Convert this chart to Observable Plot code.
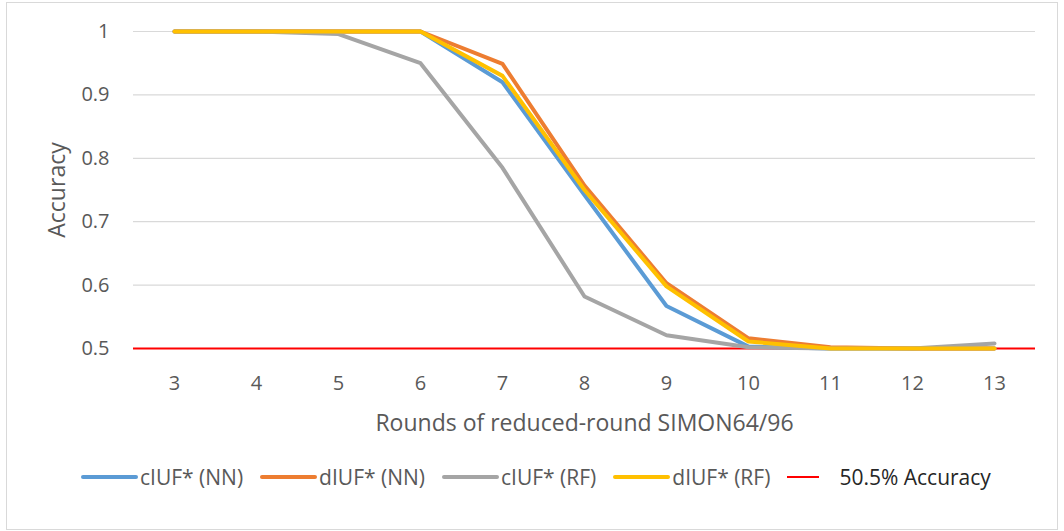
<!DOCTYPE html>
<html>
<head>
<meta charset="utf-8">
<script src="https://cdn.jsdelivr.net/npm/d3@7"></script>
<script src="https://cdn.jsdelivr.net/npm/@observablehq/plot@0.6"></script>
<style>
  html, body { margin: 0; padding: 0; background: #ffffff; }
  body { width: 1064px; height: 531px; position: relative; overflow: hidden; font-family: "Open Sans", sans-serif; }
  #frame { position: absolute; left: 6px; top: 2px; width: 1052px; height: 528px; border: 1px solid #d9d9d9; box-sizing: border-box; }
  #chart { position: absolute; left: 0; top: 0; }
  #legend { position: absolute; left: 81px; top: 462px; height: 30px; display: flex; align-items: center; gap: 17px; font-size: 21px; color: #595959; white-space: nowrap; }
  .item { display: flex; align-items: center; gap: 2px; }
  .sw { width: 57px; height: 4px; border-radius: 2px; }
  .sw.thin { width: 32px; height: 2px; border-radius: 0; margin-right: 18px; }
  .dark { color: #262626; }
</style>
</head>
<body>
<div id="frame"></div>
<div id="chart"></div>
<div id="legend"></div>
<script>
// ---- data ----
const rounds = [3, 4, 5, 6, 7, 8, 9, 10, 11, 12, 13];
const cIUF_NN = [1, 1, 1, 1, 0.920, 0.742, 0.567, 0.503, 0.500, 0.500, 0.500];
const dIUF_NN = [1, 1, 1, 1, 0.949, 0.757, 0.603, 0.516, 0.502, 0.500, 0.500];
const cIUF_RF = [1, 1, 0.996, 0.950, 0.785, 0.582, 0.521, 0.502, 0.500, 0.500, 0.508];
const dIUF_RF = [1, 1, 1, 1, 0.930, 0.750, 0.598, 0.511, 0.500, 0.500, 0.500];
const seriesNames = ["cIUF* (NN)", "dIUF* (NN)", "cIUF* (RF)", "dIUF* (RF)"];
const thresholdLabel = "50.5% Accuracy";
const thresholdValue = [0.5];
const yTicks = [0.5, 0.6, 0.7, 0.8, 0.9, 1];
const xTitle = "Rounds of reduced-round SIMON64/96";
const yTitle = "Accuracy";

// ---- styling ----
const seriesColors = ["#5b9bd5", "#ed7d31", "#a5a5a5", "#ffc000"];
const thresholdColor = "#ff0000";

const seriesValues = [cIUF_NN, dIUF_NN, cIUF_RF, dIUF_RF];
const rows = seriesNames.flatMap((name, s) =>
  rounds.map((r, i) => ({ round: r, acc: seriesValues[s][i], series: name }))
);

const chart = Plot.plot({
  width: 1064,
  height: 450,
  marginLeft: 133,
  marginRight: 29,
  marginTop: 31,
  marginBottom: 102,
  style: { fontFamily: "Open Sans, sans-serif", fontSize: "20px", color: "#595959", background: "transparent" },
  x: { type: "point", domain: rounds, padding: 0.5, label: null },
  y: { domain: [0.5, 1], label: null },
  color: { domain: seriesNames, range: seriesColors },
  marks: [
    Plot.gridY(yTicks, { stroke: "#d9d9d9", strokeOpacity: 1, strokeWidth: 1.2 }),
    Plot.ruleY(thresholdValue, { stroke: thresholdColor, strokeWidth: 2 }),
    Plot.line(rows, { x: "round", y: "acc", z: "series", stroke: "series", strokeWidth: 4, strokeLinejoin: "round", strokeLinecap: "round" }),
    Plot.axisX({ tickSize: 0, tickPadding: 27, fontSize: 20, label: null }),
    Plot.axisY({ ticks: yTicks, tickSize: 0, tickPadding: 24, fontSize: 20, label: null, tickFormat: d => String(+d.toFixed(1)) }),
    Plot.text([xTitle], { frameAnchor: "bottom", lineAnchor: "bottom", textAnchor: "middle", dy: 82, fontSize: 23, fill: "#595959" }),
    Plot.text([yTitle], { frameAnchor: "left", lineAnchor: "bottom", textAnchor: "middle", rotate: -90, dx: -69, fontSize: 23, fill: "#595959" })
  ]
});
document.getElementById("chart").appendChild(chart);

// ---- legend ----
const legend = document.getElementById("legend");
seriesNames.forEach((name, i) => {
  const it = document.createElement("div");
  it.className = "item";
  const sw = document.createElement("span");
  sw.className = "sw";
  sw.style.background = seriesColors[i];
  const tx = document.createElement("span");
  tx.textContent = name;
  it.append(sw, tx);
  legend.append(it);
});
{
  const it = document.createElement("div");
  it.className = "item";
  const sw = document.createElement("span");
  sw.className = "sw thin";
  sw.style.background = thresholdColor;
  const tx = document.createElement("span");
  tx.className = "dark";
  tx.textContent = thresholdLabel;
  it.append(sw, tx);
  legend.append(it);
}
</script>
</body>
</html>
